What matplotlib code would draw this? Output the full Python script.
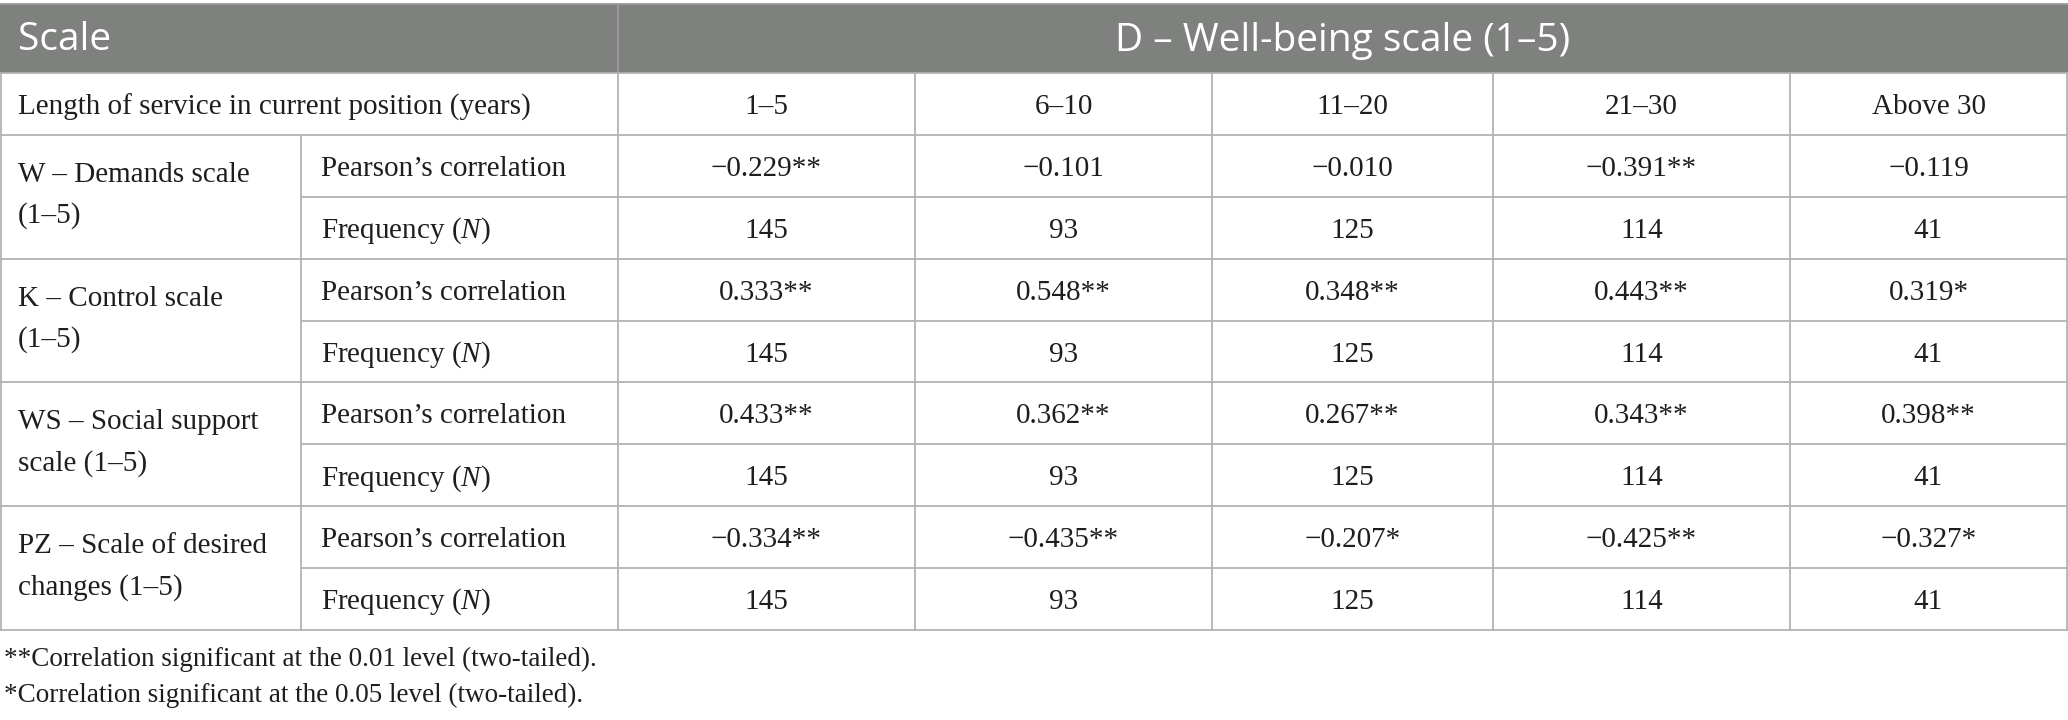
import matplotlib
matplotlib.use("Agg")
import matplotlib.pyplot as plt
from matplotlib.patches import Rectangle

plt.rcParams['mathtext.fontset'] = 'custom'
plt.rcParams['mathtext.rm'] = 'Liberation Serif'
plt.rcParams['mathtext.it'] = 'Liberation Serif:italic'

# ---- data ----
header_left = "Scale"
header_right = "D – Well-being scale (1–5)"
service_label = "Length of service in current position (years)"
service_groups = ["1–5", "6–10", "11–20", "21–30", "Above 30"]
scale_names = [["W – Demands scale", "(1–5)"],
               ["K – Control scale", "(1–5)"],
               ["WS – Social support", "scale (1–5)"],
               ["PZ – Scale of desired", "changes (1–5)"]]
stat_labels = ["Pearson’s correlation", r"Frequency ($\mathit{N}$)"]
correlations = [["−0.229**", "−0.101", "−0.010", "−0.391**", "−0.119"],
                ["0.333**", "0.548**", "0.348**", "0.443**", "0.319*"],
                ["0.433**", "0.362**", "0.267**", "0.343**", "0.398**"],
                ["−0.334**", "−0.435**", "−0.207*", "−0.425**", "−0.327*"]]
frequencies = [["145", "93", "125", "114", "41"]] * 4
footnotes = ["**Correlation significant at the 0.01 level (two-tailed).",
             "*Correlation significant at the 0.05 level (two-tailed)."]

# ---- layout ----
W, H = 2068, 720
fig = plt.figure(figsize=(W / 100, H / 100), dpi=100)
ax = fig.add_axes([0, 0, 1, 1])
ax.set_xlim(0, W)
ax.set_ylim(H, 0)
ax.axis('off')

top, head_bot = 4, 73
row_h = (630 - head_bot) / 9
col_x = [0, 301, 618, 915, 1212, 1493, 1790, W - 1]
line_c = '#b3b3b3'
lw = 1.3
txt_c = '#1e1e1e'
serif = 'Liberation Serif'
fs = 21
dy = 3

# header
ax.add_patch(Rectangle((0, top), W, head_bot - top, color='#7f817f', lw=0))
ax.text(18, (top + head_bot) / 2 + 2, header_left, color='white', fontsize=28,
        family='Open Sans', va='center', ha='left')
ax.text((col_x[2] + col_x[-1]) / 2, (top + head_bot) / 2 + 2, header_right, color='white',
        fontsize=28, family='Open Sans', va='center', ha='center')
ax.plot([col_x[2], col_x[2]], [top, head_bot], color='#9a9a9a', lw=lw)

row_y = [head_bot + i * row_h for i in range(10)]

def cy(i):
    return (row_y[i] + row_y[i + 1]) / 2 + dy

# service row
ax.text(18, cy(0), service_label, fontsize=fs, family=serif, color=txt_c, va='center', ha='left')
for j, g in enumerate(service_groups):
    ax.text((col_x[j + 2] + col_x[j + 3]) / 2, cy(0), g, fontsize=fs, family=serif,
            color=txt_c, va='center', ha='center')

for k in range(4):
    r1, r2 = 1 + 2 * k, 2 + 2 * k
    mid = row_y[r2] + dy
    ax.text(18, mid - 25, scale_names[k][0], fontsize=fs, family=serif, color=txt_c,
            va='center', ha='left')
    ax.text(18, mid + 16, scale_names[k][1], fontsize=fs, family=serif, color=txt_c,
            va='center', ha='left')
    for r, lab, vals in ((r1, stat_labels[0], correlations[k]), (r2, stat_labels[1], frequencies[k])):
        ax.text(321, cy(r), lab, fontsize=fs, family=serif, color=txt_c, va='center', ha='left')
        for j, v in enumerate(vals):
            ax.text((col_x[j + 2] + col_x[j + 3]) / 2, cy(r), v, fontsize=fs, family=serif,
                    color=txt_c, va='center', ha='center')

# grid lines
for i, y in enumerate(row_y):
    x0 = col_x[1] if (i >= 2 and i % 2 == 0 and i < 9) else 0
    ax.plot([x0, W], [y, y], color=line_c, lw=lw, solid_capstyle='butt')
ax.plot([0, W], [top, top], color='#9a9a9a', lw=lw)
for x in col_x[2:]:
    ax.plot([x, x], [row_y[0], row_y[-1]], color=line_c, lw=lw)
ax.plot([col_x[1], col_x[1]], [row_y[1], row_y[-1]], color=line_c, lw=lw)
ax.plot([0.7, 0.7], [row_y[0], row_y[-1]], color=line_c, lw=lw)

# footnotes
ax.text(4, 659, footnotes[0], fontsize=19.5, family=serif, color=txt_c, va='center', ha='left')
ax.text(4, 695, footnotes[1], fontsize=19.5, family=serif, color=txt_c, va='center', ha='left')

fig.savefig('out.png', dpi=100)
